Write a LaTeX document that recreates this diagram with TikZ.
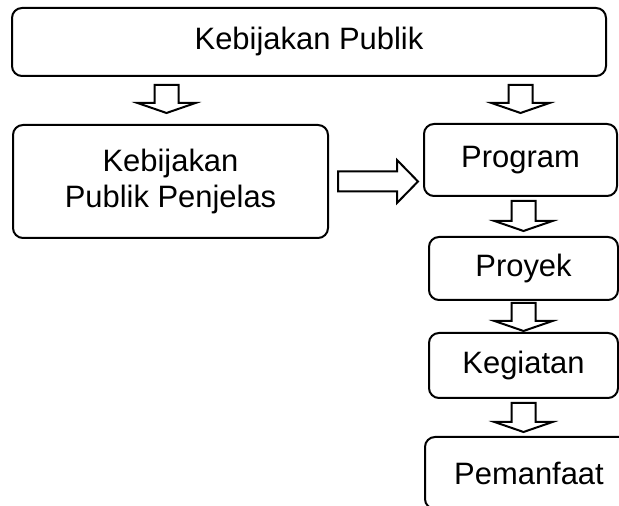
\documentclass[tikz,border=0pt]{standalone}
\usepackage{fontspec}
\setmainfont{Liberation Sans}
\usepackage{tikz}
\usetikzlibrary{calc}

\begin{document}
\begin{tikzpicture}
    \newcommand{\downblock}[2]{\draw[block] let \p1=(#1), \p2=(#2) in (\x1-0.3cm,\y1) -- (\x1+0.3cm,\y1) -- (\x1+0.3cm,\y2+0.25cm) -- (\x1+0.725cm,\y2+0.25cm) -- (\x1,\y2) -- (\x1-0.725cm,\y2+0.25cm) -- (\x1-0.3cm,\y2+0.25cm) -- cycle;}
    \newcommand{\rightblock}[2]{\draw[block] let \p1=(#1), \p2=(#2) in (\x1,\y1+0.25cm) -- (\x2-0.525cm,\y1+0.25cm) -- (\x2-0.525cm,\y1+0.5375cm) -- (\x2,\y1) -- (\x2-0.525cm,\y1-0.5375cm) -- (\x2-0.525cm,\y1-0.25cm) -- (\x1,\y1-0.25cm) -- cycle;}
    \tikzstyle{box}=[
      draw=black,
      rounded corners=0.25cm,
      line width=0.05cm,
      align=center,
      inner sep=0pt,
      font=\fontsize{22}{25.6}\selectfont,
    ]
    \tikzstyle{block}=[
      draw=black,
      line width=0.05cm,
      fill=white,
    ]
    
    \coordinate (pageAnchor) at (0,0);
    \useasboundingbox (pageAnchor) rectangle ([xshift=15.475cm, yshift=12.65cm] pageAnchor);
    \clip (pageAnchor) rectangle ([xshift=15.475cm, yshift=12.65cm] pageAnchor);
    
    % boxes
    {
      \node[box, minimum width=14.85cm, minimum height=1.7cm] (publik) at ([xshift=7.725cm, yshift=11.6cm] pageAnchor) {Kebijakan Publik};
      \node[box, minimum width=7.875cm, minimum height=2.825cm] (penjelas) at ([xshift=4.2625cm, yshift=8.1125cm] pageAnchor) {Kebijakan\\Publik Penjelas};
      \node[box, minimum width=4.825cm, minimum height=1.8cm] (program) at ([xshift=13.0125cm, yshift=8.65cm] pageAnchor) {Program};
      \node[box, minimum width=4.725cm, minimum height=1.575cm] (proyek) at ([xshift=13.0875cm, yshift=5.9375cm] pageAnchor) {Proyek};
      \node[box, minimum width=4.725cm, minimum height=1.625cm] (kegiatan) at ([xshift=13.0875cm, yshift=3.5125cm] pageAnchor) {Kegiatan};
      \node[box, minimum width=5.2cm, minimum height=1.8cm] (pemanfaat) at ([xshift=13.225cm, yshift=0.825cm] pageAnchor) {Pemanfaat};
    }
    
    % arrow ends
    {
      \path (publik.south -| penjelas.north) ++(-0.1,-0.2) coordinate (tail1);
      \path (penjelas.north) ++(0,0.275) coordinate (tip1);
      \path (publik.south -| program.north) ++(0,-0.2) coordinate (tail2);
      \path (program.north) ++(0,0.25) coordinate (tip2);
      \path (program.south -| proyek.north) ++(0,-0.1) coordinate (tail3);
      \path (proyek.north) ++(0,0.125) coordinate (tip3);
      \path (proyek.south) ++(0,-0.05) coordinate (tail4);
      \path (kegiatan.north) ++(0,0.025) coordinate (tip4);
      \path (kegiatan.south) ++(0,-0.1) coordinate (tail5);
      \path (pemanfaat.north -| kegiatan.north) ++(0,0.1) coordinate (tip5);
      \path (penjelas.east) ++(0.225,0) coordinate (tail6);
      \path (penjelas.east -| program.west) ++(-0.125,0) coordinate (tip6);
    }
    
    % block arrows
    {
      \downblock{tail1}{tip1};
      \downblock{tail2}{tip2};
      \downblock{tail3}{tip3};
      \downblock{tail4}{tip4};
      \downblock{tail5}{tip5};
      \rightblock{tail6}{tip6};
    }
  \end{tikzpicture}
\end{document}
